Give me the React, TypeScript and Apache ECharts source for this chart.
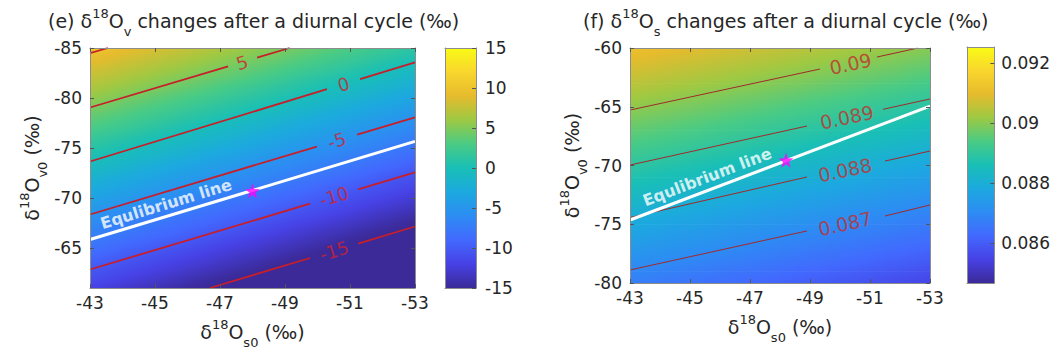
import React, { useEffect, useRef } from 'react';
import * as echarts from 'echarts';

const FONT = 'DejaVu Sans';
const TEXT_COLOR = '#262626';
const FRAME_COLOR = '#8c8c8c';
const PARULA = ['#3b2a98', '#4741e5', '#4269fe', '#2d8cf3', '#1ca9df', '#19bfb6', '#4acb84', '#9dc943', '#e6bb2d', '#f9d62d', '#f9fb15'];

// tick labels
const xTickLabels = [-43, -45, -47, -49, -51, -53];
const eYTickLabels = [-85, -80, -75, -70, -65];
const fYTickLabels = [-80, -75, -70, -65, -60];
const eBarTickLabels = [-15, -10, -5, 0, 5, 10, 15];
const fBarTickLabels = [0.086, 0.088, 0.09, 0.092];
const eBarRange = [-15, 15];
const fBarRange = [0.08467, 0.09253];

// grid nodes (δ18Os0 columns, δ18Ov0 rows)
const nodeX = [-43, -44, -45, -46, -47, -48, -49, -50, -51, -52, -53];
const eNodeY = [-85, -84, -83, -82, -81, -80, -79, -78, -77, -76, -75, -74, -73, -72, -71, -70, -69, -68, -67, -66, -65, -64, -63, -62, -61];
const fNodeY = [-60, -61, -62, -63, -64, -65, -66, -67, -68, -69, -70, -71, -72, -73, -74, -75, -76, -77, -78, -79, -80];

// panel (e): δ18Ov change after a diurnal cycle (‰) at the nodes
const eValues = [
  [10.3, 9.4, 8.5, 7.6, 6.6, 5.7, 4.8, 3.9, 3.0, 2.1, 1.2],
  [9.4, 8.4, 7.5, 6.6, 5.7, 4.8, 3.9, 3.0, 2.1, 1.2, 0.3],
  [8.4, 7.5, 6.6, 5.7, 4.8, 3.9, 3.0, 2.1, 1.2, 0.2, -0.7],
  [7.5, 6.6, 5.7, 4.8, 3.9, 3.0, 2.0, 1.1, 0.2, -0.7, -1.6],
  [6.6, 5.7, 4.8, 3.9, 2.9, 2.0, 1.1, 0.2, -0.7, -1.6, -2.5],
  [5.7, 4.7, 3.8, 2.9, 2.0, 1.1, 0.2, -0.7, -1.6, -2.5, -3.5],
  [4.7, 3.8, 2.9, 2.0, 1.1, 0.2, -0.7, -1.7, -2.6, -3.5, -4.4],
  [3.8, 2.9, 2.0, 1.1, 0.2, -0.8, -1.7, -2.6, -3.5, -4.4, -5.3],
  [2.9, 2.0, 1.1, 0.1, -0.8, -1.7, -2.6, -3.5, -4.4, -5.3, -6.2],
  [1.9, 1.0, 0.1, -0.8, -1.7, -2.6, -3.5, -4.4, -5.3, -6.2, -7.2],
  [1.0, 0.1, -0.8, -1.7, -2.6, -3.5, -4.4, -5.4, -6.3, -7.2, -8.1],
  [0.1, -0.8, -1.7, -2.6, -3.6, -4.5, -5.4, -6.3, -7.2, -8.1, -9.0],
  [-0.8, -1.7, -2.7, -3.6, -4.5, -5.4, -6.3, -7.2, -8.1, -9.0, -9.9],
  [-1.8, -2.7, -3.6, -4.5, -5.4, -6.3, -7.2, -8.1, -9.0, -10.0, -10.9],
  [-2.7, -3.6, -4.5, -5.4, -6.3, -7.2, -8.1, -9.1, -10.0, -10.9, -11.8],
  [-3.6, -4.5, -5.4, -6.3, -7.3, -8.2, -9.1, -10.0, -10.9, -11.8, -12.7],
  [-4.5, -5.5, -6.4, -7.3, -8.2, -9.1, -10.0, -10.9, -11.8, -12.7, -13.6],
  [-5.5, -6.4, -7.3, -8.2, -9.1, -10.0, -10.9, -11.8, -12.7, -13.7, -14.6],
  [-6.4, -7.3, -8.2, -9.1, -10.0, -10.9, -11.9, -12.8, -13.7, -14.6, -15.5],
  [-7.3, -8.2, -9.1, -10.0, -11.0, -11.9, -12.8, -13.7, -14.6, -15.5, -16.4],
  [-8.2, -9.2, -10.1, -11.0, -11.9, -12.8, -13.7, -14.6, -15.5, -16.4, -17.3],
  [-9.2, -10.1, -11.0, -11.9, -12.8, -13.7, -14.6, -15.5, -16.5, -17.4, -18.3],
  [-10.1, -11.0, -11.9, -12.8, -13.7, -14.6, -15.6, -16.5, -17.4, -18.3, -19.2],
  [-11.0, -11.9, -12.8, -13.8, -14.7, -15.6, -16.5, -17.4, -18.3, -19.2, -20.1],
  [-11.9, -12.9, -13.8, -14.7, -15.6, -16.5, -17.4, -18.3, -19.2, -20.1, -21.0],
];

// panel (f): δ18Os change after a diurnal cycle (‰) at the nodes
const fValues = [
  [0.09117, 0.09105, 0.09093, 0.09081, 0.09069, 0.09057, 0.09045, 0.09033, 0.09021, 0.09009, 0.08997],
  [0.09095, 0.09083, 0.09071, 0.09059, 0.09047, 0.09035, 0.09023, 0.09011, 0.08999, 0.08987, 0.08975],
  [0.09073, 0.09061, 0.09049, 0.09037, 0.09025, 0.09013, 0.09001, 0.08989, 0.08977, 0.08965, 0.08953],
  [0.09051, 0.09039, 0.09027, 0.09015, 0.09003, 0.08991, 0.08979, 0.08967, 0.08955, 0.08943, 0.08931],
  [0.09028, 0.09016, 0.09004, 0.08992, 0.08980, 0.08968, 0.08956, 0.08944, 0.08932, 0.08920, 0.08908],
  [0.09006, 0.08994, 0.08982, 0.08970, 0.08958, 0.08946, 0.08934, 0.08922, 0.08910, 0.08898, 0.08886],
  [0.08984, 0.08972, 0.08960, 0.08948, 0.08936, 0.08924, 0.08912, 0.08900, 0.08888, 0.08876, 0.08864],
  [0.08962, 0.08950, 0.08938, 0.08926, 0.08914, 0.08902, 0.08890, 0.08878, 0.08866, 0.08854, 0.08842],
  [0.08940, 0.08928, 0.08916, 0.08904, 0.08892, 0.08880, 0.08868, 0.08856, 0.08844, 0.08832, 0.08820],
  [0.08917, 0.08905, 0.08893, 0.08881, 0.08869, 0.08857, 0.08845, 0.08833, 0.08821, 0.08809, 0.08797],
  [0.08895, 0.08883, 0.08871, 0.08859, 0.08847, 0.08835, 0.08823, 0.08811, 0.08799, 0.08787, 0.08775],
  [0.08873, 0.08861, 0.08849, 0.08837, 0.08825, 0.08813, 0.08801, 0.08789, 0.08777, 0.08765, 0.08753],
  [0.08851, 0.08839, 0.08827, 0.08815, 0.08803, 0.08791, 0.08779, 0.08767, 0.08755, 0.08743, 0.08731],
  [0.08829, 0.08817, 0.08805, 0.08793, 0.08781, 0.08769, 0.08757, 0.08745, 0.08733, 0.08721, 0.08709],
  [0.08806, 0.08794, 0.08782, 0.08770, 0.08758, 0.08746, 0.08734, 0.08722, 0.08710, 0.08698, 0.08686],
  [0.08784, 0.08772, 0.08760, 0.08748, 0.08736, 0.08724, 0.08712, 0.08700, 0.08688, 0.08676, 0.08664],
  [0.08762, 0.08750, 0.08738, 0.08726, 0.08714, 0.08702, 0.08690, 0.08678, 0.08666, 0.08654, 0.08642],
  [0.08740, 0.08728, 0.08716, 0.08704, 0.08692, 0.08680, 0.08668, 0.08656, 0.08644, 0.08632, 0.08620],
  [0.08718, 0.08706, 0.08694, 0.08682, 0.08670, 0.08658, 0.08646, 0.08634, 0.08622, 0.08610, 0.08598],
  [0.08695, 0.08683, 0.08671, 0.08659, 0.08647, 0.08635, 0.08623, 0.08611, 0.08599, 0.08587, 0.08575],
  [0.08673, 0.08661, 0.08649, 0.08637, 0.08625, 0.08613, 0.08601, 0.08589, 0.08577, 0.08565, 0.08553],
];

// panel (e) contour segments [δ18Os0, δ18Ov0]
const eLevel10 = [[-43, -84.48], [-43.55, -85]];
const eLevel5A = [[-43, -79.05], [-47.25, -83.16]];
const eLevel5B = [[-48.14, -84.03], [-49.14, -85]];
const eLevel0A = [[-43, -73.65], [-50.29, -80.88]];
const eLevel0B = [[-51.31, -81.88], [-53, -83.56]];
const eLevelM5A = [[-43, -68.35], [-49.98, -75.14]];
const eLevelM5B = [[-51.22, -76.33], [-53, -78.07]];
const eLevelM10A = [[-43, -62.85], [-49.77, -69.43]];
const eLevelM10B = [[-51.25, -70.86], [-53, -72.57]];
const eLevelM15A = [[-46.69, -61], [-49.77, -64.0]];
const eLevelM15B = [[-51.25, -65.44], [-53, -67.15]];
const eContourLabels = [[-47.68, -83.55, 5], [-50.8, -81.37, 0], [-50.6, -75.74, -5], [-50.51, -70.15, -10], [-50.51, -64.72, -15]];
const eEquilibrium = [[-43, -65.85], [-53, -75.66]];
const eEquilibriumText = [[-45.34, -69.4]];
const eStar = [[-48.0, -70.7]];

// panel (f) contour segments
const fLevel090A = [[-43, -65.28], [-49.33, -61.79]];
const fLevel090B = [[-51.23, -60.77], [-52.6, -60]];
const fLevel089A = [[-43, -69.96], [-48.9, -66.64]];
const fLevel089B = [[-51.43, -65.22], [-53, -64.34]];
const fLevel088A = [[-43, -74.43], [-48.9, -70.98]];
const fLevel088B = [[-51.5, -69.62], [-53, -68.77]];
const fLevel087A = [[-43, -78.89], [-48.9, -75.57]];
const fLevel087B = [[-51.5, -74.3], [-53, -73.36]];
const fContourLabels = [[-50.35, -61.35, 0.09], [-50.23, -65.9, 0.089], [-50.17, -70.38, 0.088], [-50.17, -74.95, 0.087]];
const fEquilibrium = [[-43, -74.64], [-53, -64.95]];
const fEquilibriumText = [[-45.57, -70.98]];
const fStar = [[-48.2, -69.55]];

const STAR = 'path://M0,-10 L2.35,-3.24 L9.51,-3.09 L3.8,1.24 L5.88,8.09 L0,4 L-5.88,8.09 L-3.8,1.24 L-9.51,-3.09 L-2.35,-3.24 Z';

const hexToRgb = (h: string) => [parseInt(h.slice(1, 3), 16), parseInt(h.slice(3, 5), 16), parseInt(h.slice(5, 7), 16)];
const PARULA_RGB = PARULA.map(hexToRgb);
const colorAt = (v: number, lo: number, hi: number) => {
  let t = (v - lo) / (hi - lo);
  t = Math.max(0, Math.min(1, t));
  const pos = t * (PARULA_RGB.length - 1);
  const i = Math.min(PARULA_RGB.length - 2, Math.floor(pos));
  const f = pos - i;
  const a = PARULA_RGB[i];
  const b = PARULA_RGB[i + 1];
  return `rgb(${Math.round(a[0] + (b[0] - a[0]) * f)},${Math.round(a[1] + (b[1] - a[1]) * f)},${Math.round(a[2] + (b[2] - a[2]) * f)})`;
};

const rich = (size: number) => ({
  n: { fontSize: size, fontFamily: FONT, fontWeight: 'normal', color: TEXT_COLOR, lineHeight: 22 },
  sup: { fontSize: 13, fontFamily: FONT, fontWeight: 'normal', color: TEXT_COLOR, lineHeight: 14, padding: [0, 0, 16, 0] },
  sub: { fontSize: 13, fontFamily: FONT, fontWeight: 'normal', color: TEXT_COLOR, lineHeight: 14, padding: [20, 0, 0, 0] },
});

export default function App() {
  const ref = useRef<HTMLDivElement>(null);
  useEffect(() => {
    if (!ref.current) return;
    const chart = echarts.init(ref.current, undefined, { renderer: 'svg' });

    // one cell between neighbouring nodes: [x0, y0, x1, y1, v00, v10, v01, v11]
    const cells = (ys: number[], vals: number[][]) => {
      const out: number[][] = [];
      for (let i = 0; i < ys.length - 1; i++) {
        for (let j = 0; j < nodeX.length - 1; j++) {
          out.push([nodeX[j], ys[i], nodeX[j + 1], ys[i + 1], vals[i][j], vals[i][j + 1], vals[i + 1][j], vals[i + 1][j + 1]]);
        }
      }
      return out;
    };
    const makeCellRenderer = (lo: number, hi: number) => (params: any, api: any) => {
      const xa = api.value(0);
      const ya = api.value(1);
      const xb = api.value(2);
      const yb = api.value(3);
      const vals = [api.value(4), api.value(5), api.value(6), api.value(7)];
      const pts = [api.coord([xa, ya]), api.coord([xb, ya]), api.coord([xa, yb]), api.coord([xb, yb])];
      const xs = pts.map((p: number[]) => p[0]);
      const ysPx = pts.map((p: number[]) => p[1]);
      const left = Math.min(...xs);
      const right = Math.max(...xs);
      const top = Math.min(...ysPx);
      const bottom = Math.max(...ysPx);
      const W = right - left;
      const H = bottom - top;
      const cx = (left + right) / 2;
      const cy = (top + bottom) / 2;
      let b = 0;
      let c = 0;
      let fc = 0;
      pts.forEach((p: number[], k: number) => {
        b += (p[0] > cx ? 1 : -1) * vals[k] / 2;
        c += (p[1] > cy ? 1 : -1) * vals[k] / 2;
        fc += vals[k] / 4;
      });
      const gx = b / W;
      const gy = c / H;
      const g2 = gx * gx + gy * gy;
      const s = Math.abs(b) + Math.abs(c);
      let fill: any = colorAt(fc, lo, hi);
      if (g2 > 1e-14 && s > 0) {
        const k = s / (2 * g2);
        fill = {
          type: 'linear', global: true,
          x: cx - gx * k, y: cy - gy * k, x2: cx + gx * k, y2: cy + gy * k,
          colorStops: [
            { offset: 0, color: colorAt(fc - s / 2, lo, hi) },
            { offset: 0.25, color: colorAt(fc - s / 4, lo, hi) },
            { offset: 0.5, color: colorAt(fc, lo, hi) },
            { offset: 0.75, color: colorAt(fc + s / 4, lo, hi) },
            { offset: 1, color: colorAt(fc + s / 2, lo, hi) },
          ],
        };
      }
      return {
        type: 'rect',
        shape: { x: left, y: top, width: W + 0.6, height: H + 0.6 },
        style: { fill },
      };
    };
    const renderBar = (params: any, api: any) => {
      const p0 = api.coord([0, api.value(0)]);
      const p1 = api.coord([1, api.value(1)]);
      return {
        type: 'rect',
        shape: { x: Math.min(p0[0], p1[0]), y: Math.min(p0[1], p1[1]), width: Math.abs(p1[0] - p0[0]), height: Math.abs(p1[1] - p0[1]) },
        style: {
          fill: {
            type: 'linear', x: 0, y: 1, x2: 0, y2: 0,
            colorStops: PARULA.map((col, i) => ({ offset: i / (PARULA.length - 1), color: col })),
          },
        },
      };
    };

    const lineBase = { show: true, onZero: false, lineStyle: { color: FRAME_COLOR, width: 1 } };
    const tickBase = (vals: number[], showLabel: boolean, margin = 8) => ({
      axisLine: lineBase,
      axisTick: { show: true, inside: true, length: 4, customValues: vals, lineStyle: { color: '#555' } },
      axisLabel: showLabel
        ? { show: true, customValues: vals, fontFamily: FONT, fontSize: 17, color: TEXT_COLOR, margin }
        : { show: false },
      splitLine: { show: false },
      z: 10,
    });
    const plain = { axisLine: lineBase, axisTick: { show: false }, axisLabel: { show: false }, splitLine: { show: false }, z: 10 };

    const xName = '{n|δ}{sup|18}{n|O}{sub|s0}{n| (‰)}';
    const yName = '{n|δ}{sup|18}{n|O}{sub|v0}{n| (‰)}';

    const lineSeries = (data: number[][], xi: number, color: string, width: number, z = 3) => ({
      type: 'line', xAxisIndex: xi, yAxisIndex: xi, data, showSymbol: false, symbol: 'none',
      lineStyle: { color, width }, silent: true, z, clip: true,
    });
    const E_LINE = '#c81e2a';
    const F_LINE = '#a02a2a';

    const option: any = {
      animation: false,
      title: [
        { left: 48, top: 10, padding: 0, text: '{n|(e) δ}{sup|18}{n|O}{sub|v}{n| changes after a diurnal cycle (‰)}', textStyle: { fontWeight: 'normal', rich: rich(19) } },
        { left: 583, top: 10, padding: 0, text: '{n|(f) δ}{sup|18}{n|O}{sub|s}{n| changes after a diurnal cycle (‰)}', textStyle: { fontWeight: 'normal', rich: rich(19) } },
      ],
      grid: [
        { left: 90, top: 48, width: 325, height: 240 },
        { left: 445, top: 48, width: 31, height: 240 },
        { left: 630, top: 48, width: 300, height: 235 },
        { left: 967, top: 47, width: 32, height: 236 },
      ],
      xAxis: [
        { gridIndex: 0, type: 'value', min: -53, max: -43, inverse: true, position: 'bottom', ...tickBase(xTickLabels, true, 6),
          name: xName, nameLocation: 'middle', nameGap: 32, nameTextStyle: { rich: rich(19) } },
        { gridIndex: 0, type: 'value', min: -53, max: -43, inverse: true, position: 'top', ...tickBase(xTickLabels, false) },
        { gridIndex: 1, type: 'value', min: 0, max: 1, position: 'bottom', ...plain },
        { gridIndex: 1, type: 'value', min: 0, max: 1, position: 'top', ...plain },
        { gridIndex: 2, type: 'value', min: -53, max: -43, inverse: true, position: 'bottom', ...tickBase(xTickLabels, true, 6),
          name: xName, nameLocation: 'middle', nameGap: 30, nameTextStyle: { rich: rich(19) } },
        { gridIndex: 2, type: 'value', min: -53, max: -43, inverse: true, position: 'top', ...tickBase(xTickLabels, false) },
        { gridIndex: 3, type: 'value', min: 0, max: 1, position: 'bottom', ...plain },
        { gridIndex: 3, type: 'value', min: 0, max: 1, position: 'top', ...plain },
      ],
      yAxis: [
        { gridIndex: 0, type: 'value', min: -85, max: -61, inverse: true, position: 'left', ...tickBase(eYTickLabels, true, 8),
          name: yName, nameLocation: 'middle', nameGap: 47, nameTextStyle: { rich: rich(19) } },
        { gridIndex: 0, type: 'value', min: -85, max: -61, inverse: true, position: 'right', ...tickBase(eYTickLabels, false) },
        { gridIndex: 1, type: 'value', min: eBarRange[0], max: eBarRange[1], position: 'left', ...plain },
        { gridIndex: 1, type: 'value', min: eBarRange[0], max: eBarRange[1], position: 'right', ...tickBase(eBarTickLabels, true, 9) },
        { gridIndex: 2, type: 'value', min: -80, max: -60, position: 'left', ...tickBase(fYTickLabels, true, 8),
          name: yName, nameLocation: 'middle', nameGap: 47, nameTextStyle: { rich: rich(19) } },
        { gridIndex: 2, type: 'value', min: -80, max: -60, position: 'right', ...tickBase(fYTickLabels, false) },
        { gridIndex: 3, type: 'value', min: fBarRange[0], max: fBarRange[1], position: 'left', ...plain },
        { gridIndex: 3, type: 'value', min: fBarRange[0], max: fBarRange[1], position: 'right', ...tickBase(fBarTickLabels, true, 7) },
      ],
      series: [
        { type: 'custom', xAxisIndex: 0, yAxisIndex: 0, data: cells(eNodeY, eValues), renderItem: makeCellRenderer(eBarRange[0], eBarRange[1]), clip: true, silent: true, z: 1 },
        { type: 'custom', xAxisIndex: 4, yAxisIndex: 4, data: cells(fNodeY, fValues), renderItem: makeCellRenderer(fBarRange[0], fBarRange[1]), clip: true, silent: true, z: 1 },
        { type: 'custom', xAxisIndex: 2, yAxisIndex: 2, data: [eBarRange], renderItem: renderBar, silent: true, z: 1 },
        { type: 'custom', xAxisIndex: 6, yAxisIndex: 6, data: [fBarRange], renderItem: renderBar, silent: true, z: 1 },
        ...[eLevel10, eLevel5A, eLevel5B, eLevel0A, eLevel0B, eLevelM5A, eLevelM5B, eLevelM10A, eLevelM10B, eLevelM15A, eLevelM15B]
          .map((d) => lineSeries(d, 0, E_LINE, 1.8)),
        ...[fLevel090A, fLevel090B, fLevel089A, fLevel089B, fLevel088A, fLevel088B, fLevel087A, fLevel087B]
          .map((d) => lineSeries(d, 4, F_LINE, 1)),
        lineSeries(eEquilibrium, 0, '#ffffff', 3, 4),
        lineSeries(fEquilibrium, 4, '#ffffff', 3, 4),
        { type: 'scatter', xAxisIndex: 0, yAxisIndex: 0, data: eContourLabels, symbolSize: 1, itemStyle: { color: 'transparent' }, silent: true, z: 5,
          label: { show: true, position: 'inside', rotate: 17, formatter: (p: any) => String(p.value[2]), fontFamily: FONT, fontSize: 18, color: '#d0222e' } },
        { type: 'scatter', xAxisIndex: 4, yAxisIndex: 4, data: fContourLabels, symbolSize: 1, itemStyle: { color: 'transparent' }, silent: true, z: 5,
          label: { show: true, position: 'inside', rotate: 12, formatter: (p: any) => String(p.value[2]), fontFamily: FONT, fontSize: 19, color: '#c2302c' } },
        { type: 'scatter', xAxisIndex: 0, yAxisIndex: 0, data: eEquilibriumText, symbolSize: 1, itemStyle: { color: 'transparent' }, silent: true, z: 5,
          label: { show: true, position: 'inside', rotate: 17, formatter: 'Equlibrium line', fontFamily: FONT, fontWeight: 'bold', fontSize: 16, color: '#ffffff' } },
        { type: 'scatter', xAxisIndex: 4, yAxisIndex: 4, data: fEquilibriumText, symbolSize: 1, itemStyle: { color: 'transparent' }, silent: true, z: 5,
          label: { show: true, position: 'inside', rotate: 21, formatter: 'Equlibrium line', fontFamily: FONT, fontWeight: 'bold', fontSize: 16, color: '#ffffff' } },
        { type: 'scatter', xAxisIndex: 0, yAxisIndex: 0, data: eStar, symbol: STAR, symbolSize: 15, itemStyle: { color: '#ff00ff' }, silent: true, z: 6 },
        { type: 'scatter', xAxisIndex: 4, yAxisIndex: 4, data: fStar, symbol: STAR, symbolSize: 15, itemStyle: { color: '#ff00ff' }, silent: true, z: 6 },
      ],
    };
    chart.setOption(option);
    return () => chart.dispose();
  }, []);
  return <div ref={ref} style={{ position: 'fixed', left: 0, top: 0, width: 1053, height: 358, background: '#ffffff' }} />;
}
